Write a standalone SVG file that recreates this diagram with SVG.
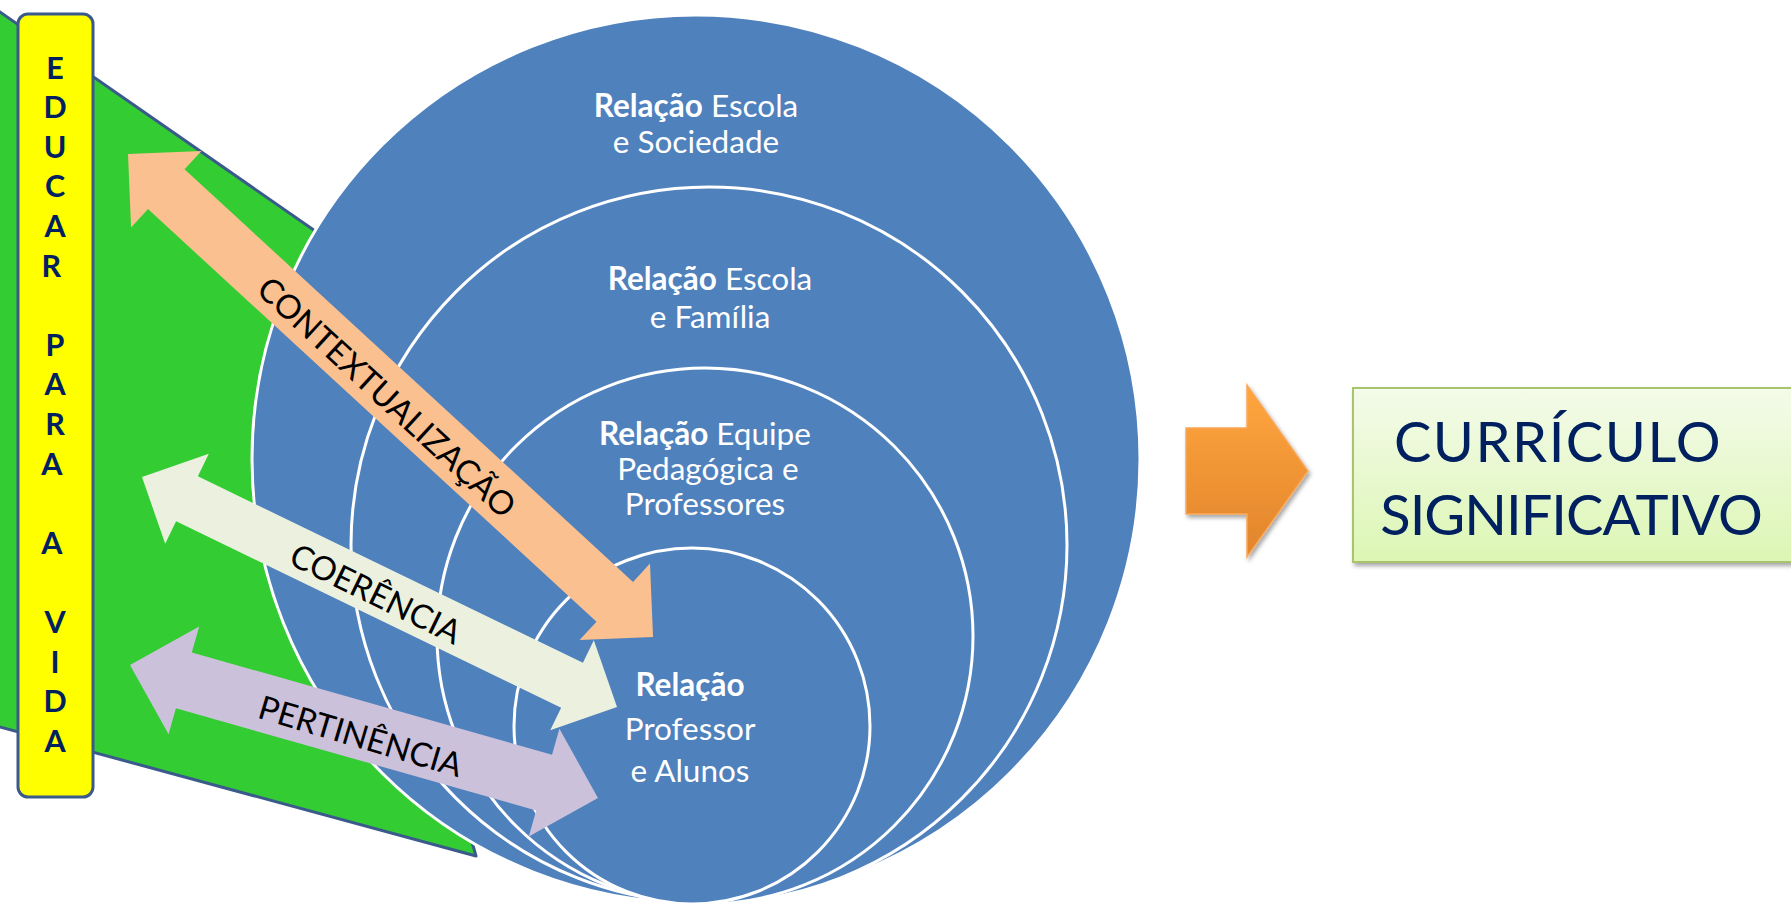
<svg xmlns="http://www.w3.org/2000/svg" width="1791" height="903" viewBox="0 0 1791 903">
<defs>
<linearGradient id="gOrange" x1="0" y1="0" x2="0" y2="1"><stop offset="0" stop-color="#ffa63f"/><stop offset="1" stop-color="#e2842b"/></linearGradient>
<linearGradient id="gBox" x1="0" y1="0" x2="0" y2="1"><stop offset="0" stop-color="#f4fbea"/><stop offset="1" stop-color="#dcf6b4"/></linearGradient>
<filter id="shadow" x="-10%" y="-10%" width="130%" height="140%"><feDropShadow dx="2" dy="3" stdDeviation="2" flood-color="#000" flood-opacity="0.35"/></filter>
</defs>
<style>
.circ{fill:#4f81bd;stroke:#ffffff;stroke-width:3}
.ctext{font-family:Lato,"Liberation Sans",sans-serif;font-size:31.5px;fill:#ffffff;text-anchor:middle}
.b{font-weight:bold}
.atext{font-family:Lato,"Liberation Sans",sans-serif;font-size:33px;fill:#000000;text-anchor:middle}
.edu{font-family:Lato,"Liberation Sans",sans-serif;font-weight:bold;font-size:30.5px;fill:#002060;text-anchor:middle}
.big{font-family:Lato,"Liberation Sans",sans-serif;font-size:56px;fill:#002060;text-anchor:middle}
</style>
<rect width="1791" height="903" fill="#ffffff"/>
<g id="green-field">
<path d="M-5,8.5 L340,248.3 L470,835 L476,856 L-5,725.6 Z" fill="#33cc33" stroke="#3a5a8c" stroke-width="3" stroke-linejoin="round"/>
</g>
<g id="educar-bar">
<rect x="18" y="14" width="75" height="783" rx="10" ry="10" fill="#ffff00" stroke="#3a5a8c" stroke-width="3"/>
<text class="edu">
<tspan x="55" y="78.5">E</tspan><tspan x="55" y="118.1">D</tspan><tspan x="55" y="157.7">U</tspan><tspan x="55" y="197.3">C</tspan><tspan x="55" y="236.9">A</tspan><tspan x="55" y="276.5">R</tspan>
<tspan x="55" y="355.7">P</tspan><tspan x="55" y="395.3">A</tspan><tspan x="55" y="434.9">R</tspan><tspan x="55" y="474.5">A</tspan>
<tspan x="55" y="553.7">A</tspan>
<tspan x="55" y="632.9">V</tspan><tspan x="55" y="672.5">I</tspan><tspan x="55" y="712.1">D</tspan><tspan x="55" y="751.7">A</tspan>
</text>
</g>
<g id="circle-sociedade">
<circle class="circ" cx="696" cy="459" r="444"/>
<text class="ctext"><tspan x="696" y="117"><tspan class="b">Relação</tspan> Escola</tspan><tspan x="696" y="153">e Sociedade</tspan></text>
</g>
<g id="circle-familia">
<circle class="circ" cx="709" cy="545" r="358"/>
<text class="ctext"><tspan x="710" y="290"><tspan class="b">Relação</tspan> Escola</tspan><tspan x="710" y="328">e Família</tspan></text>
</g>
<g id="circle-equipe">
<circle class="circ" cx="705" cy="636" r="268"/>
<text class="ctext"><tspan x="705" y="445"><tspan class="b">Relação</tspan> Equipe</tspan><tspan x="708" y="480">Pedagógica e</tspan><tspan x="705" y="515">Professores</tspan></text>
</g>
<g id="circle-professor">
<circle class="circ" cx="692" cy="726" r="178"/>
<text class="ctext"><tspan class="b" x="690" y="696">Relação</tspan><tspan x="690" y="740">Professor</tspan><tspan x="690" y="782">e Alunos</tspan></text>
</g>
<g id="connectors">
<g id="arrow-pertinencia">
<path transform="translate(130,665) rotate(15.86)" d="M0,0 L56,-56 L56,-29 L430.5,-29 L430.5,-56 L486.5,0 L430.5,56 L430.5,29 L56,29 L56,56 Z" fill="#ccc1da"/>
<text class="atext" transform="translate(360.5,736) rotate(16.5)" x="0" y="12">PERTINÊNCIA</text>
</g>
<g id="arrow-coerencia">
<path transform="translate(142,477) rotate(25.84)" d="M0,0 L50,-50 L50,-25 L477.8,-25 L477.8,-50 L527.8,0 L477.8,50 L477.8,25 L50,25 L50,50 Z" fill="#ebf1de"/>
<text class="atext" transform="translate(376,593.5) rotate(26)" x="0" y="12">COERÊNCIA</text>
</g>
<g id="arrow-contextualizacao">
<path transform="translate(128,154) rotate(42.61)" d="M0,0 L52,-52 L52,-27 L661.4,-27 L661.4,-52 L713.4,0 L661.4,52 L661.4,27 L52,27 L52,52 Z" fill="#fac090"/>
<text class="atext" transform="translate(387,397) rotate(42.61)" x="0" y="12">CONTEXTUALIZAÇÃO</text>
</g>
</g>
<g id="result-arrow">
<path d="M1186,428 L1247,428 L1247,385 L1308,471 L1247,557 L1247,514 L1186,514 Z" fill="url(#gOrange)" stroke="#f9a85a" stroke-width="1.5" filter="url(#shadow)"/>
</g>
<g id="curriculo-box">
<rect x="1353" y="388" width="450" height="174" fill="url(#gBox)" stroke="#a9c46c" stroke-width="2" filter="url(#shadow)"/>
<text class="big" x="1558" y="462" letter-spacing="1.5">CURRÍCULO</text>
<text class="big" x="1571" y="535" letter-spacing="-1">SIGNIFICATIVO</text>
</g>
</svg>
